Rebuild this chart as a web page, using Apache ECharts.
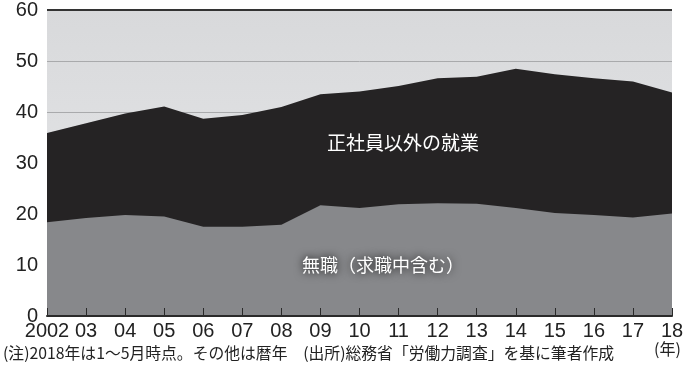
<!DOCTYPE html>
<html><head><meta charset="utf-8">
<script src="https://cdn.jsdelivr.net/npm/echarts@6/dist/echarts.min.js"></script>
<style>html,body{margin:0;padding:0;background:#fff}#c{width:688px;height:368px}</style>
</head><body><div id="c"></div>
<script>
const years = ['2002','03','04','05','06','07','08','09','10','11','12','13','14','15','16','17','18'];
const yTicks = [0, 10, 20, 30, 40, 50, 60];
// top of black area: total (non-regular work + no job)
const totalValues = [35.9, 37.8, 39.7, 41.1, 38.7, 39.4, 41.0, 43.5, 44.0, 45.1, 46.6, 46.9, 48.5, 47.4, 46.6, 46.0, 43.8];
// gray area: no job (incl. job seekers)
const noJobValues = [18.4, 19.2, 19.8, 19.5, 17.5, 17.5, 17.9, 21.7, 21.2, 21.9, 22.1, 22.0, 21.2, 20.2, 19.8, 19.3, 20.1];
const labelWork = '正社員以外の就業';
const labelNoJob = '無職（求職中含む）';
const note = '(注)2018年は1～5月時点。その他は暦年　(出所)総務省「労働力調査」を基に筆者作成';
const yearUnit = '(年)';

const chart = echarts.init(document.getElementById('c'));
chart.setOption({
  animation: false,
  grid: {left: 47, right: 16, top: 9, bottom: 52, show: true, borderWidth: 0,
    backgroundColor: new echarts.graphic.LinearGradient(0,0,0,1,[{offset:0,color:'#d8d9db'},{offset:1,color:'#e8e9eb'}])},
  xAxis: {
    type: 'category', data: years, boundaryGap: false, z: 10,
    axisLine: {show: true, lineStyle: {color: '#2a2a2a', width: 2}},
    axisTick: {show: true, inside: true, length: 8, lineStyle: {color: '#2a2a2a', width: 1}},
    axisLabel: {color: '#222', fontSize: 20, fontFamily: 'Liberation Sans', margin: 5, interval: 0},
    splitLine: {show: false}
  },
  yAxis: {
    type: 'value', min: 0, max: 60, interval: 10,
    axisLine: {show: false}, axisTick: {show: false},
    axisLabel: {color: '#222', fontSize: 20, fontFamily: 'Liberation Sans', margin: 9,
      formatter: v => yTicks.includes(v) ? String(v) : ''},
    splitLine: {show: true, lineStyle: {color: '#a9aaac', width: 1}}
  },
  series: [
    {type: 'line', data: totalValues, symbol: 'none', lineStyle: {width: 0},
     areaStyle: {color: '#252324', opacity: 1}, z: 2,
     markLine: {silent: true, symbol: 'none', label: {show: false},
       lineStyle: {color: '#333', width: 2, type: 'solid'}, data: [{yAxis: 60}]}},
    {type: 'line', data: noJobValues, symbol: 'none', lineStyle: {width: 0},
     areaStyle: {color: '#87888b', opacity: 1}, z: 3}
  ],
  graphic: [
    {type: 'text', left: 327, top: 133, z: 10, style: {text: labelWork, fill: '#fff', font: '19px "Noto Sans CJK JP"'}},
    {type: 'text', left: 302, top: 256, z: 10, style: {text: labelNoJob, fill: '#fff', font: '18px "Noto Sans CJK JP"',
      textShadowColor: '#000', textShadowBlur: 10}},
    {type: 'text', left: 3, top: 345, z: 10, style: {text: note, fill: '#222', font: '15.8px "Noto Sans CJK JP"'}},
    {type: 'text', left: 654, top: 341, z: 10, style: {text: yearUnit, fill: '#222', font: '16px "Noto Sans CJK JP"'}}
  ]
});
</script></body></html>
